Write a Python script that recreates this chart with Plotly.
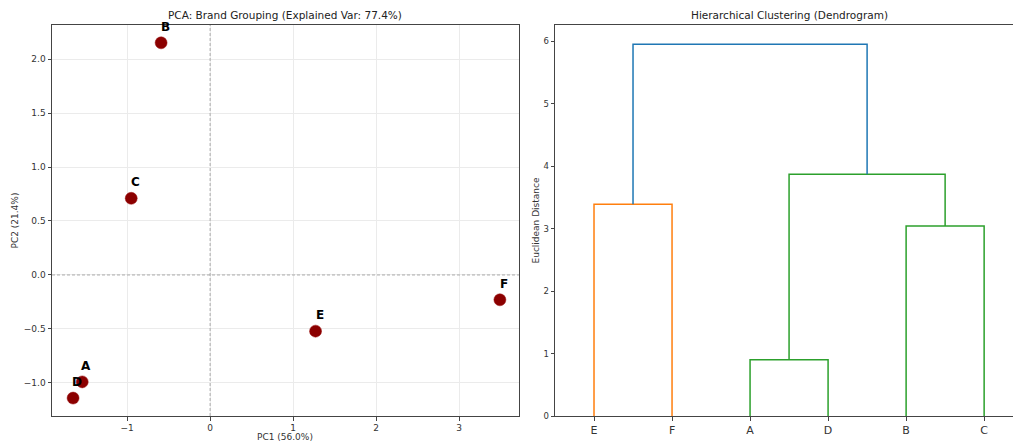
import plotly.graph_objects as go

# ---- PCA data ----
brands = ["A", "B", "C", "D", "E", "F"]
pc1 = [-1.54, -0.59, -0.95, -1.65, 1.27, 3.49]
pc2 = [-0.99, 2.15, 0.71, -1.14, -0.52, -0.23]

# ---- Dendrogram data ----
leaf_order = ["E", "F", "A", "D", "B", "C"]
# merges: (left member, right member, height, color)
merge_left = ["E", "A", "B", "AD", "EF"]
merge_right = ["F", "D", "C", "BC", "ADBC"]
merge_height = [3.39, 0.90, 3.04, 3.87, 5.95]
merge_color = ["#ff7f0e", "#2ca02c", "#2ca02c", "#2ca02c", "#1f77b4"]

FONT = "DejaVu Sans"
AX = "#444444"
W, H = 1013, 444
MT, MB = 25, 28
PH = H - MT - MB

fig = go.Figure()

# PCA scatter
fig.add_trace(go.Scatter(
    x=pc1, y=pc2, mode="markers", xaxis="x", yaxis="y",
    marker=dict(color="#8b0000", size=12, line=dict(color="#9a1010", width=0.5)),
    showlegend=False, hoverinfo="skip"))

for b, xv, yv in zip(brands, pc1, pc2):
    fig.add_annotation(x=xv, y=yv, xref="x", yref="y", text="<b>%s</b>" % b,
                       showarrow=False, xshift=4, yshift=16,
                       font=dict(family=FONT, size=12, color="black"))

# Dendrogram
pos = {name: 5 + 10 * i for i, name in enumerate(leaf_order)}
hgt = {name: 0.0 for name in leaf_order}
for l, r, h, c in zip(merge_left, merge_right, merge_height, merge_color):
    xl, xr = pos[l], pos[r]
    fig.add_trace(go.Scatter(
        x=[xl, xl, xr, xr], y=[hgt[l], h, h, hgt[r]], mode="lines",
        xaxis="x2", yaxis="y2", line=dict(color=c, width=1.5),
        showlegend=False, hoverinfo="skip"))
    name = l + r
    pos[name] = (xl + xr) / 2
    hgt[name] = h

xleft = [52 / W, 519 / W]
xright = [555 / W, 1.0]
ydom = [0, 1]

common = dict(showline=True, linecolor=AX, linewidth=1, ticks="outside",
              ticklen=3.5, tickcolor=AX, automargin=False, zeroline=False)

fig.update_layout(
    width=W, height=H,
    margin=dict(l=0, r=0, t=MT, b=MB),
    paper_bgcolor="white", plot_bgcolor="white",
    font=dict(family=FONT, size=9, color="#333333"),
    xaxis=dict(domain=xleft, range=[-1.904, 3.72], dtick=1, tick0=0,
               showgrid=True, gridcolor="#ebebeb", gridwidth=1, mirror=True,
               **common),
    yaxis=dict(domain=ydom, range=[-1.306, 2.315], dtick=0.5, tick0=0,
               tickformat=".1f", showgrid=True, gridcolor="#ebebeb", gridwidth=1,
               mirror=True, **common),
    xaxis2=dict(domain=xright, range=[0, 58.7], anchor="y2",
                tickmode="array", tickvals=[pos[n] for n in leaf_order],
                ticktext=leaf_order, tickfont=dict(size=11),
                showgrid=False, mirror=True, **common),
    yaxis2=dict(domain=ydom, range=[0, 6.26], anchor="x2", dtick=1,
                tickfont=dict(size=8.5),
                showgrid=False, mirror=False, **common),
)

# dashed zero lines on PCA
fig.add_shape(type="line", xref="x", yref="y domain", x0=0, x1=0, y0=0, y1=1,
              line=dict(color="#999999", width=0.8, dash="3px,2px"))
fig.add_shape(type="line", xref="x domain", yref="y", x0=0, x1=1, y0=0, y1=0,
              line=dict(color="#999999", width=0.8, dash="3px,2px"))

# subplot titles
fig.add_annotation(text="PCA: Brand Grouping (Explained Var: 77.4%)", xref="paper", yref="paper",
                   x=(xleft[0] + xleft[1]) / 2, xanchor="center", y=1, yanchor="bottom", yshift=2,
                   showarrow=False, font=dict(family=FONT, size=10.5, color="#222222"))
fig.add_annotation(text="Hierarchical Clustering (Dendrogram)", xref="paper", yref="paper",
                   x=789 / W, xanchor="center", y=1, yanchor="bottom", yshift=2,
                   showarrow=False, font=dict(family=FONT, size=10.5, color="#222222"))

# axis titles
fig.add_annotation(text="PC1 (56.0%)", xref="paper", yref="paper",
                   x=(xleft[0] + xleft[1]) / 2, xanchor="center",
                   y=-(437 - (MT + PH)) / PH, yanchor="middle",
                   showarrow=False, font=dict(family=FONT, size=9, color="#333333"))
fig.add_annotation(text="PC2 (21.4%)", xref="paper", yref="paper", textangle=-90,
                   x=14 / W, y=0.5, xanchor="center", yanchor="middle",
                   showarrow=False, font=dict(family=FONT, size=9, color="#333333"))
fig.add_annotation(text="Euclidean Distance", xref="paper", yref="paper", textangle=-90,
                   x=535 / W, y=0.5, xanchor="center", yanchor="middle",
                   showarrow=False, font=dict(family=FONT, size=9, color="#333333"))

fig.write_html("out.html", config={"displayModeBar": False},
               post_script="document.body.style.margin='0';document.body.style.overflow='hidden';")
